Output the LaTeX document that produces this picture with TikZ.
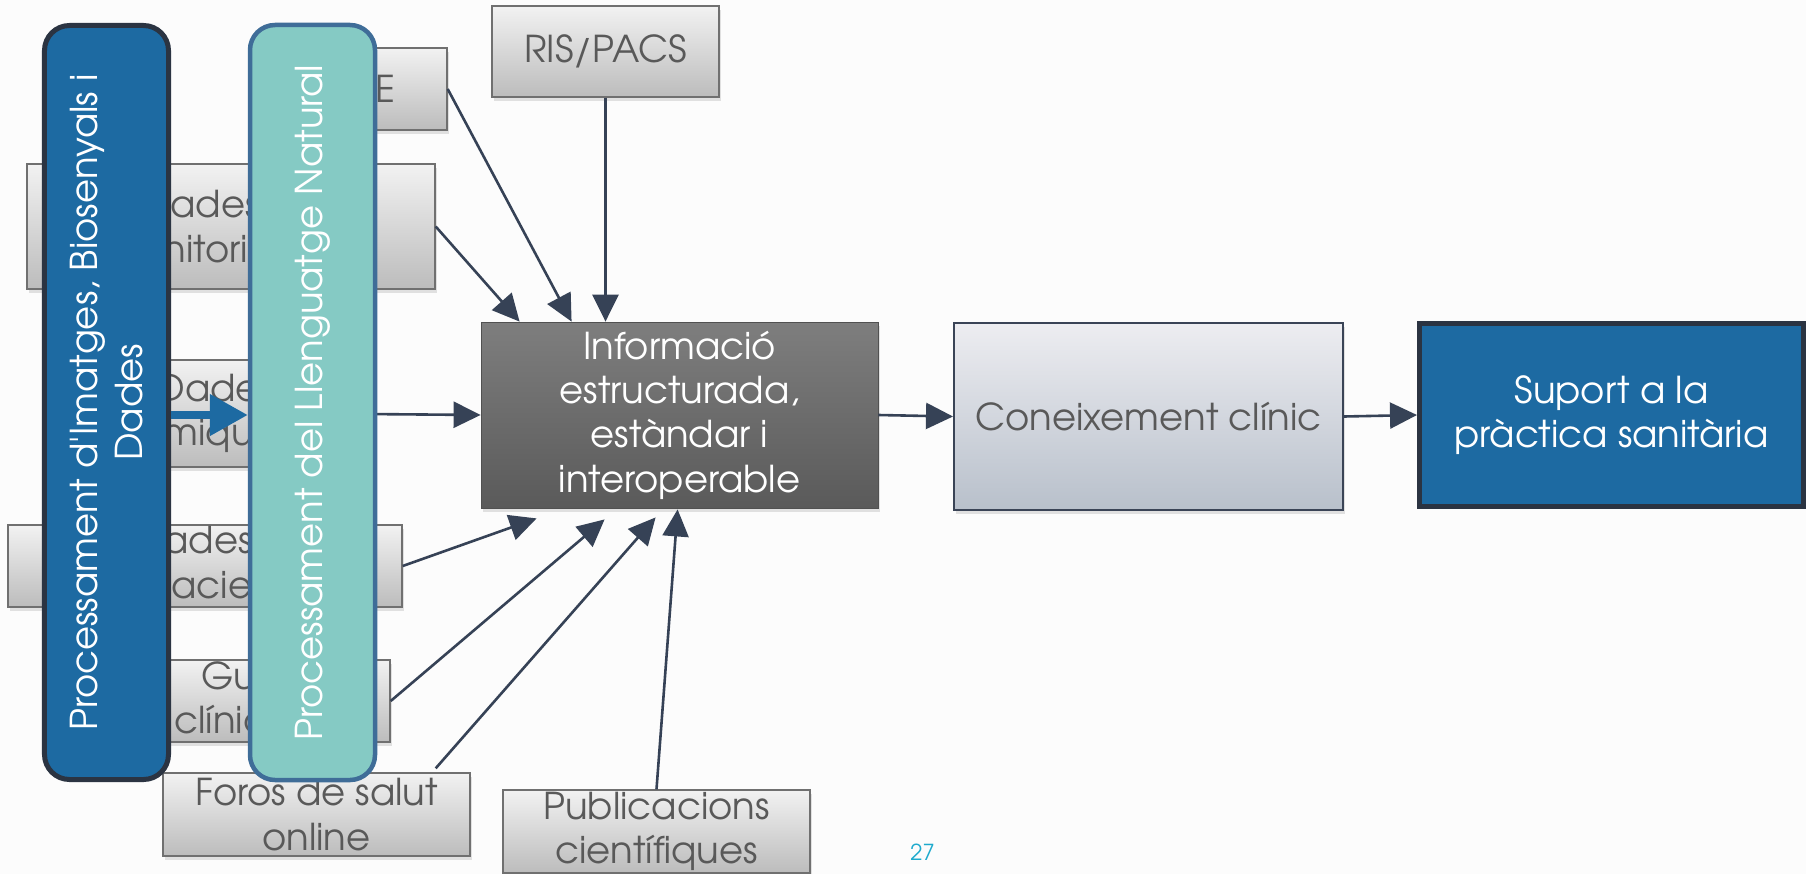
\documentclass[tikz,border=0pt]{standalone}
\usepackage{fontspec}
\setmainfont{TeX Gyre Adventor}
\usetikzlibrary{arrows.meta,shadows}
\definecolor{bgc}{RGB}{252,252,252}
\definecolor{graytop}{RGB}{242,242,242}
\definecolor{graybot}{RGB}{188,188,188}
\definecolor{grayborder}{RGB}{112,112,112}
\definecolor{graytext}{RGB}{89,89,89}
\definecolor{infotop}{RGB}{126,126,126}
\definecolor{infobot}{RGB}{90,90,90}
\definecolor{contop}{RGB}{237,237,241}
\definecolor{conbot}{RGB}{184,192,203}
\definecolor{conborder}{RGB}{58,68,86}
\definecolor{bluefill}{RGB}{29,106,162}
\definecolor{darkborder}{RGB}{43,52,66}
\definecolor{tealfill}{RGB}{133,202,196}
\definecolor{tealborder}{RGB}{63,109,152}
\definecolor{arrc}{RGB}{54,66,86}
\definecolor{pagenum}{RGB}{30,170,205}
\newcommand\diagfont{\fontsize{37bp}{44.4bp}\selectfont}
\begin{document}
\begin{tikzpicture}[x=1bp,y=-1bp,
  shadowed/.style={drop shadow={opacity=0.22, shadow xshift=2bp, shadow yshift=-4bp}},
  graybox/.style={draw=grayborder, line width=1.4bp, top color=graytop, bottom color=graybot,
    inner sep=0pt, text=graytext, align=center, font=\diagfont, shadowed},
  infobox/.style={draw=infobot!90!black, line width=0.8bp, top color=infotop, bottom color=infobot,
    inner sep=0pt, text=white, align=center, font=\diagfont, shadowed},
  conbox/.style={draw=conborder, line width=2bp, top color=contop, bottom color=conbot,
    inner sep=0pt, text=graytext, align=center, font=\diagfont, shadowed},
  supbox/.style={draw=darkborder, line width=5bp, fill=bluefill,
    inner sep=0pt, text=white, align=center, font=\diagfont},
  imgbox/.style={draw=darkborder, line width=5bp, fill=bluefill, rounded corners=25bp,
    inner sep=0pt, text=white, align=center, font=\diagfont},
  nlpbox/.style={draw=tealborder, line width=4.5bp, fill=tealfill, rounded corners=25bp,
    inner sep=0pt, text=white, align=center, font=\diagfont},
  arr/.style={draw=arrc, line width=2.6bp, -{Triangle[length=27bp,width=26bp]}},
  bluearr/.style={draw=bluefill, line width=8bp, -{Triangle[length=38bp,width=40bp]}}
]
\fill[bgc] (0,0) rectangle (1806,874);
\useasboundingbox (0,0) rectangle (1806,874);

% source boxes
\node[graybox, minimum width=179bp, minimum height=82bp] (hce) at (357.5,89) {HCE};
\node[graybox, minimum width=408bp, minimum height=125bp] (mon) at (231,226.5) {Dades de\\monitorització};
\node[graybox, minimum width=180bp, minimum height=107bp] (om) at (216,413.5) {Dades\\òmiques};
\node[graybox, minimum width=394bp, minimum height=82bp] (pac) at (205,566) {\hspace*{38bp}Dades de\\\hspace*{38bp}pacients};
\node[graybox, minimum width=276bp, minimum height=82bp] (gui) at (252,701) {Guies\\clíniques};
\node[graybox, minimum width=307bp, minimum height=83bp] (for) at (316.5,814.5) {Foros de salut\\online};
\node[graybox, minimum width=307bp, minimum height=83bp] (pub) at (656.5,831.5) {Publicacions\\científiques};
\node[graybox, minimum width=227bp, minimum height=91bp] (ris) at (605.5,51.5) {RIS/PACS};

% main chain
\node[infobox, minimum width=397bp, minimum height=186bp] (info) at (679.5,415) {Informació\\estructurada,\\estàndar i\\interoperable};
\node[conbox, minimum width=389bp, minimum height=187bp] (con) at (1148.5,416.5) {Coneixement clínic};
\node[supbox, minimum width=384bp, minimum height=183bp] (sup) at (1611.5,415) {Suport a la\\pràctica sanitària};

% connectors
\draw[arr] (mon.east) -- ([xshift=39bp]info.north west);
\draw[arr] (hce.east) -- ([xshift=91bp]info.north west);
\draw[arr] (ris.south) -- (ris.south |- info.north);
\draw[arr] (om.east) -- (info.west);
\draw[arr] (pac.east) -- ([xshift=56bp,yshift=-10bp]info.south west);
\draw[arr] (gui.east) -- ([xshift=124bp,yshift=-11bp]info.south west);
\draw[arr] ([xshift=-35bp,yshift=4bp]for.north east) -- ([xshift=175bp,yshift=-9bp]info.south west);
\draw[arr] (pub.north) -- ([xshift=197bp,yshift=-1bp]info.south west);
\draw[arr] (info.east) -- (con.west);
\draw[arr] (con.east) -- (sup.west);

% overlay processing bars
\node[imgbox, rotate=90, minimum width=754bp, minimum height=124bp] (img) at (106.5,402.5)
  {Processament d\textquotesingle Imatges, Biosenyals i\\Dades};
\node[nlpbox, rotate=90, minimum width=755bp, minimum height=125bp] (nlp) at (312.5,402.5)
  {Processament del Llenguatge Natural};
\draw[bluearr] ([yshift=-12.5bp]img.south) -- ([yshift=-12.5bp]nlp.north);

\node[text=pagenum, font=\fontsize{22bp}{26bp}\selectfont, inner sep=0pt] (pg) at (922.5,852) {27};
\end{tikzpicture}
\end{document}
